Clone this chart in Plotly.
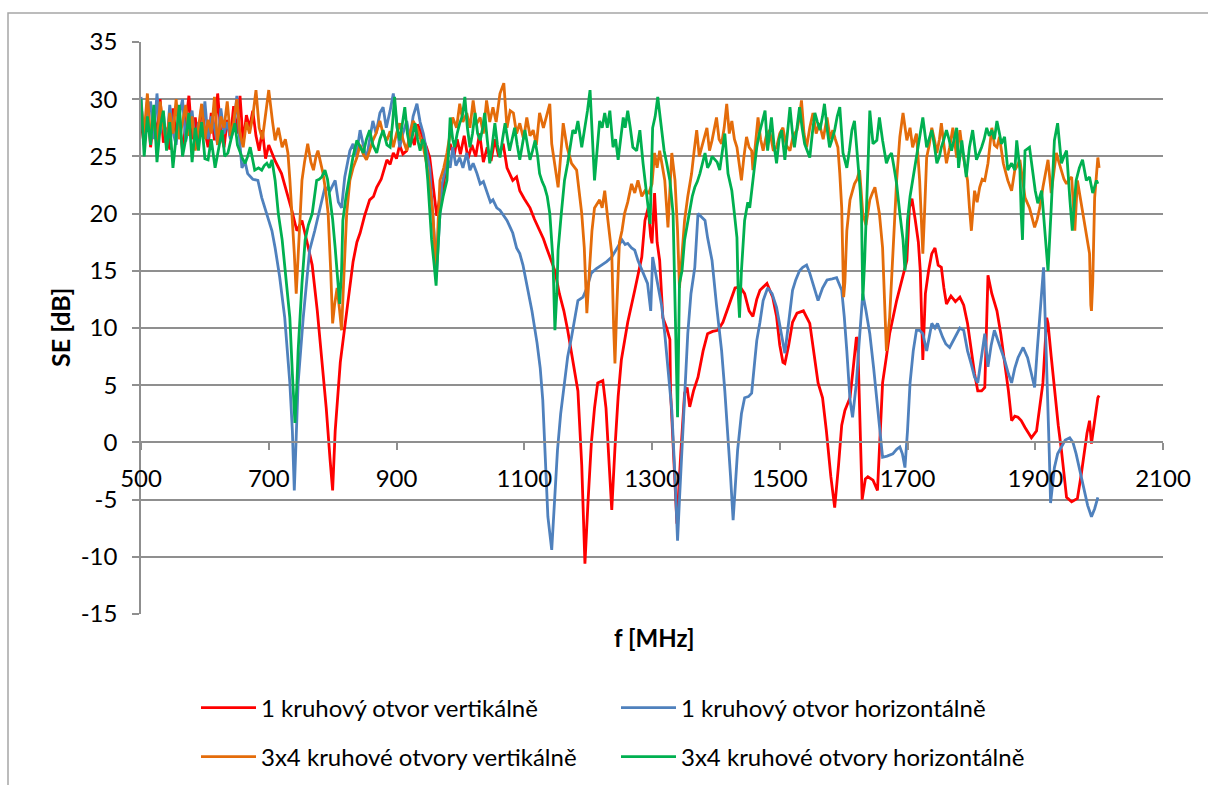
import plotly.graph_objects as go

# ---- data (frequency MHz, SE dB) ----
red_data = [
(500,28.0),(505,26.0),(510,29.8),(515,25.8),(520,28.5),(525,27.0),(530,30.0),(535,26.2),(540,27.5),(545,25.6),
(550,29.2),(555,26.8),(560,28.0),(565,25.5),(570,27.8),(575,30.3),(580,26.5),(585,28.4),(590,26.0),(595,29.5),
(600,27.2),(605,25.8),(610,28.8),(615,26.4),(620,30.5),(625,27.0),(630,25.8),(635,28.2),(640,26.6),(645,29.4),
(650,27.0),(655,30.3),(660,26.2),(665,28.6),(670,27.5),(675,29.0),(680,26.8),(685,25.5),(690,27.3),(695,24.8),
(700,26.0),(710,24.6),(720,23.5),(728,22.0),(736,20.3),(744,18.5),(752,19.4),(760,17.5),(768,15.5),(776,11.5),
(784,7.0),(790,3.0),(796,-1.5),(800,-4.2),(804,1.0),(808,4.5),(812,7.0),(817,9.2),(822,11.5),(827,13.3),
(832,15.8),(838,17.5),(843,18.3),(850,19.8),(858,21.2),(864,21.5),(869,22.3),(876,23.0),(885,24.7),(890,24.3),
(895,25.3),(900,24.8),(905,26.0),(910,25.2),(916,25.5),(922,27.0),(928,26.0),(933,27.8),(937,27.3),(942,26.5),
(947,25.8),(952,24.9),(957,22.5),(963,19.8),(968,21.5),(973,22.0),(978,24.5),(984,26.1),(990,25.0),(995,26.5),
(1000,25.2),(1006,26.8),(1012,24.8),(1018,26.0),(1024,25.0),(1030,27.0),(1036,24.5),(1042,25.8),(1048,24.6),(1054,26.5),
(1060,25.0),(1067,26.1),(1073,24.0),(1082,22.9),(1088,23.2),(1093,22.0),(1100,21.3),(1109,20.5),(1116,19.5),(1124,18.5),
(1130,17.8),(1135,17.0),(1141,16.0),(1148,15.0),(1155,13.0),(1162,11.5),(1168,9.8),(1176,7.0),(1184,4.5),(1190,-2.0),
(1195,-10.6),(1200,-5.0),(1205,-0.1),(1210,3.0),(1215,5.2),(1223,5.4),(1228,3.0),(1233,-2.0),(1237,-5.9),(1242,-0.5),
(1247,4.0),(1252,7.2),(1262,10.5),(1273,13.3),(1280,15.0),(1284,16.2),(1289,19.4),(1294,20.5),(1298,18.0),(1300,17.4),
(1304,21.8),(1308,17.5),(1312,15.9),(1317,10.9),(1323,10.0),(1328,9.0),(1329,4.5),(1333,0.0),(1339,-7.1),(1345,-1.0),
(1351,4.3),(1355,4.8),(1359,3.1),(1365,4.5),(1372,5.7),(1380,8.0),(1387,9.5),(1395,9.7),(1403,9.8),(1411,10.5),
(1419,11.8),(1425,12.6),(1430,13.5),(1438,13.6),(1445,13.0),(1452,11.5),(1458,11.0),(1464,12.5),(1469,13.3),(1480,13.9),
(1489,12.7),(1495,11.0),(1500,8.5),(1505,7.0),(1508,6.9),(1514,8.5),(1520,10.5),(1527,11.3),(1537,11.5),(1547,10.4),
(1553,8.0),(1560,5.2),(1567,3.9),(1573,1.0),(1580,-3.0),(1586,-5.7),(1592,-2.0),(1597,1.5),(1602,2.8),(1610,3.9),
(1615,6.5),(1620,9.2),(1622,9.0),(1626,0.0),(1629,-5.0),(1634,-3.2),(1638,-3.0),(1646,-3.3),(1653,-4.2),(1657,0.5),
(1661,5.2),(1667,7.5),(1672,9.5),(1683,12.4),(1690,14.0),(1699,15.9),(1703,20.5),(1707,21.3),(1712,19.5),(1717,17.5),
(1720,15.0),(1724,7.2),(1728,13.0),(1733,15.0),(1738,16.5),(1743,17.0),(1748,15.5),(1753,15.3),(1757,13.5),(1761,12.1),
(1768,12.8),(1775,12.3),(1782,12.7),(1788,12.0),(1794,10.4),(1800,8.0),(1805,6.0),(1810,4.5),(1816,4.5),(1821,4.8),
(1826,14.6),(1832,13.0),(1840,11.5),(1846,9.5),(1852,7.2),(1858,4.5),(1863,1.9),(1868,2.3),(1873,2.2),(1878,1.9),
(1884,1.3),(1889,0.8),(1894,0.4),(1902,1.0),(1907,3.0),(1912,5.2),(1918,10.9),(1920,10.4),(1925,7.5),(1930,4.5),
(1936,1.5),(1941,-0.7),(1945,-2.8),(1949,-4.8),(1957,-5.2),(1962,-5.0),(1966,-4.9),(1972,-2.8),(1977,-0.7),(1981,0.8),
(1985,1.9),(1988,-0.1),(1992,1.5),(1998,3.9),(2000,4.1)]

blue_data = [
(500,30.2),(505,26.0),(510,28.5),(515,29.8),(520,26.5),(525,30.5),(530,27.0),(535,28.8),(540,25.8),(545,29.5),
(550,27.2),(555,26.0),(560,28.6),(565,30.0),(570,26.3),(575,27.8),(580,29.0),(585,25.8),(590,28.0),(595,27.0),
(600,29.8),(605,26.5),(610,28.5),(615,27.5),(620,26.0),(625,29.2),(630,27.0),(635,28.0),(640,26.5),(645,27.3),
(650,30.3),(655,26.0),(658,24.0),(663,24.5),(667,23.5),(675,23.0),(683,22.9),(689,21.4),(694,20.5),(699,19.4),
(705,18.5),(710,17.0),(717,14.5),(725,10.9),(733,5.2),(737,1.0),(740,-4.2),(743,0.5),(746,5.2),(754,10.9),
(760,14.5),(764,16.8),(772,18.5),(780,20.5),(788,22.3),(796,22.0),(804,22.9),(809,21.0),(814,20.5),(819,23.2),
(822,24.0),(827,25.5),(832,26.1),(837,25.0),(843,27.3),(848,26.0),(853,24.7),(858,26.5),(863,28.1),(868,27.0),
(874,28.8),(879,29.3),(884,27.5),(890,29.0),(895,30.5),(900,28.0),(905,25.8),(910,27.0),(916,28.1),(921,26.5),
(926,28.5),(932,29.6),(937,28.0),(942,27.0),(947,25.5),(952,24.0),(956,20.5),(960,17.0),(963,15.0),(967,19.0),
(971,22.5),(975,23.5),(979,24.9),(984,24.0),(988,25.8),(993,24.2),(999,24.9),(1004,24.0),(1010,25.3),(1015,23.8),
(1020,24.4),(1026,23.5),(1031,22.6),(1036,22.8),(1042,21.8),(1047,21.0),(1051,21.2),(1057,20.5),(1062,20.3),(1068,19.8),
(1073,19.4),(1078,18.8),(1082,18.3),(1088,17.0),(1093,16.5),(1098,15.5),(1104,13.9),(1112,11.5),(1120,8.7),(1125,6.5),
(1129,3.7),(1133,-1.0),(1137,-6.5),(1143,-9.4),(1147,-5.0),(1152,-0.7),(1157,2.5),(1163,5.2),(1168,7.5),(1174,9.2),
(1179,11.0),(1184,12.4),(1192,12.7),(1198,13.5),(1205,14.8),(1213,15.2),(1221,15.5),(1229,15.8),(1237,16.2),(1245,17.0),
(1253,17.7),(1258,17.3),(1262,17.4),(1268,17.0),(1273,16.8),(1278,15.9),(1285,15.0),(1293,13.9),(1298,11.5),(1301,16.2),
(1305,15.0),(1309,13.9),(1315,12.0),(1320,9.5),(1326,6.0),(1331,2.8),(1336,-3.0),(1340,-8.6),(1343,-5.0),(1347,-0.7),
(1351,4.0),(1356,9.5),(1361,13.0),(1367,15.3),(1372,20.0),(1377,19.7),(1383,19.4),(1387,17.9),(1394,15.9),(1401,12.0),
(1409,8.0),(1414,4.5),(1419,0.8),(1423,-3.0),(1427,-6.8),(1431,-3.5),(1434,-0.7),(1440,2.5),(1445,3.9),(1451,4.0),
(1456,4.3),(1461,7.2),(1464,8.9),(1469,10.5),(1474,12.4),(1481,13.5),(1488,13.0),(1495,11.8),(1502,9.5),(1508,7.8),
(1514,10.5),(1520,13.3),(1525,14.2),(1531,15.0),(1536,15.3),(1542,15.5),(1547,14.8),(1552,13.9),(1560,12.4),(1567,13.5),
(1574,14.2),(1582,14.3),(1589,14.4),(1597,13.3),(1601,11.0),(1605,8.0),(1610,3.7),(1614,2.2),(1617,3.5),(1620,5.2),
(1624,8.5),(1630,13.0),(1635,11.5),(1641,9.5),(1647,6.5),(1652,3.7),(1657,1.0),(1661,-1.3),(1668,-1.2),(1677,-1.0),
(1683,-0.6),(1688,-0.4),(1692,-1.0),(1696,-2.2),(1700,1.0),(1704,5.2),(1709,8.0),(1714,9.8),(1719,9.8),(1724,9.5),
(1730,8.0),(1738,10.4),(1743,10.0),(1747,10.4),(1755,9.2),(1760,8.6),(1766,8.3),(1774,9.2),(1782,10.0),(1788,9.8),
(1794,8.0),(1800,6.8),(1805,5.7),(1810,5.2),(1815,7.0),(1821,9.5),(1826,6.6),(1831,8.5),(1836,9.8),(1844,8.5),
(1852,7.2),(1858,6.0),(1863,5.2),(1868,6.5),(1873,7.4),(1881,8.3),(1888,7.4),(1894,6.0),(1899,4.8),(1903,8.0),
(1907,10.9),(1913,15.3),(1916,10.0),(1919,5.2),(1922,-1.0),(1924,-5.3),(1930,-2.2),(1935,-1.0),(1941,-0.4),(1947,0.2),
(1954,0.4),(1959,0.0),(1964,-1.0),(1970,-2.5),(1977,-4.2),(1982,-5.5),(1988,-6.5),(1993,-5.8),(1998,-4.8)]

orange_data = [
(500,29.5),(505,27.0),(510,30.5),(515,26.5),(520,28.5),(525,25.8),(530,29.8),(535,27.5),(540,26.2),(545,28.8),
(550,27.0),(555,30.0),(560,26.5),(565,28.0),(570,29.5),(575,26.8),(580,28.5),(585,25.5),(590,27.8),(595,29.6),
(600,26.5),(605,28.2),(610,27.0),(615,30.2),(620,26.0),(625,28.5),(630,27.5),(635,29.8),(640,26.8),(645,28.0),
(650,30.0),(655,27.0),(660,25.8),(665,28.0),(670,27.0),(675,28.5),(680,30.8),(685,27.5),(690,26.5),(695,28.5),
(700,30.8),(706,28.0),(710,26.4),(715,27.5),(721,25.8),(726,26.5),(730,25.3),(733,23.0),(736,20.5),(740,16.5),
(743,13.0),(747,18.0),(752,22.9),(756,24.5),(761,26.1),(766,24.5),(770,23.8),(774,25.0),(777,25.5),(781,24.5),
(785,23.5),(789,22.0),(793,20.0),(797,15.0),(800,10.4),(803,12.0),(807,13.5),(811,11.5),(814,9.8),(818,15.0),
(822,20.0),(827,22.9),(832,24.0),(838,24.9),(843,26.0),(848,25.2),(853,24.7),(858,25.5),(863,26.4),(868,27.0),
(874,28.1),(879,27.0),(885,26.4),(890,27.2),(895,25.8),(900,27.0),(905,27.9),(910,26.5),(916,25.5),(921,27.0),
(926,28.1),(932,27.5),(937,26.7),(942,25.8),(947,24.4),(952,22.5),(957,20.0),(962,14.5),(965,19.0),(968,22.9),
(974,24.0),(979,25.3),(984,27.0),(988,28.4),(994,27.5),(999,29.6),(1004,28.0),(1010,28.8),(1015,27.5),(1020,29.9),
(1025,27.8),(1031,28.4),(1036,27.0),(1041,29.9),(1046,28.0),(1051,29.3),(1056,28.0),(1062,30.5),(1068,31.4),(1073,27.5),
(1078,29.0),(1083,28.8),(1088,27.0),(1093,27.9),(1099,26.5),(1104,28.4),(1109,26.8),(1114,27.3),(1119,26.0),(1124,28.8),
(1130,27.5),(1135,28.5),(1140,29.6),(1143,26.1),(1148,24.4),(1153,22.3),(1157,25.0),(1161,27.9),(1167,25.8),(1174,24.4),
(1182,23.8),(1186,22.0),(1190,20.0),(1194,17.0),(1198,11.3),(1202,15.0),(1206,18.5),(1210,20.5),(1218,21.2),(1222,20.5),
(1226,22.0),(1231,19.4),(1237,16.5),(1240,10.0),(1242,6.9),(1245,12.0),(1249,17.5),(1253,18.5),(1257,20.0),(1262,21.0),
(1268,22.6),(1273,21.8),(1278,22.9),(1284,21.5),(1289,22.0),(1295,21.8),(1300,22.6),(1304,25.3),(1308,24.0),(1312,25.5),
(1316,24.0),(1320,22.9),(1325,18.8),(1328,22.0),(1331,25.3),(1336,22.9),(1340,18.5),(1343,13.5),(1347,16.5),(1351,19.4),
(1356,21.5),(1362,23.5),(1366,25.5),(1370,27.3),(1374,25.0),(1378,25.8),(1386,27.5),(1390,25.5),(1394,26.4),(1401,28.4),
(1405,26.5),(1409,26.1),(1413,27.5),(1417,29.6),(1421,27.0),(1425,28.1),(1429,26.5),(1433,25.8),(1437,24.0),(1440,22.9),
(1444,25.0),(1448,26.7),(1452,25.8),(1456,25.5),(1458,23.8),(1462,26.0),(1466,28.4),(1470,26.5),(1474,25.5),(1479,26.8),
(1484,27.3),(1490,25.5),(1495,25.8),(1500,27.0),(1505,27.5),(1510,26.0),(1516,25.5),(1521,26.8),(1527,27.3),(1531,28.5),
(1534,29.9),(1538,27.0),(1542,25.8),(1547,27.5),(1552,28.8),(1557,27.0),(1562,27.9),(1568,26.5),(1574,28.4),(1579,26.5),
(1583,27.3),(1587,26.5),(1591,25.8),(1594,23.5),(1597,20.5),(1600,12.7),(1602,14.0),(1605,18.5),(1610,21.2),(1617,22.6),
(1621,23.0),(1625,23.8),(1630,20.0),(1635,19.0),(1641,21.2),(1645,21.8),(1649,22.3),(1653,21.0),(1656,20.0),(1661,17.0),
(1664,12.0),(1667,8.0),(1672,10.9),(1677,17.0),(1683,22.9),(1688,26.7),(1693,28.8),(1699,26.4),(1704,27.5),(1708,25.8),
(1714,27.0),(1719,22.9),(1722,18.3),(1724,16.5),(1727,20.5),(1730,24.9),(1734,26.0),(1738,27.5),(1742,26.5),(1746,25.3),
(1750,26.5),(1753,27.9),(1757,26.0),(1761,24.4),(1766,25.8),(1771,27.5),(1777,24.9),(1782,27.3),(1786,25.5),(1790,24.0),
(1794,22.9),(1797,20.5),(1800,18.5),(1805,22.0),(1809,21.0),(1813,22.3),(1817,23.0),(1821,22.9),(1826,24.4),(1832,27.5),
(1836,26.0),(1840,25.8),(1844,26.7),(1850,24.4),(1857,22.9),(1863,22.0),(1868,23.8),(1872,24.2),(1876,24.7),(1880,23.0),
(1884,21.4),(1891,20.5),(1895,19.5),(1899,18.8),(1903,19.5),(1907,20.5),(1912,22.3),(1916,23.5),(1920,24.7),(1925,21.8),
(1929,23.5),(1933,25.3),(1937,24.5),(1941,23.8),(1945,23.0),(1949,22.6),(1953,23.0),(1957,23.2),(1962,18.5),(1966,22.9),
(1972,20.9),(1976,19.5),(1980,18.5),(1985,16.5),(1987,12.0),(1988,11.5),(1990,14.0),(1993,21.4),(1996,23.5),(1998,24.9),
(2000,24.0)]

green_data = [
(500,30.0),(505,25.0),(510,28.5),(515,26.0),(520,29.5),(525,24.5),(530,27.5),(535,29.0),(540,25.5),(545,28.0),
(550,24.0),(555,27.0),(560,29.5),(565,25.0),(570,26.5),(575,28.8),(580,24.5),(585,27.5),(590,25.5),(595,28.0),
(600,24.8),(605,24.7),(610,26.5),(616,24.0),(622,26.0),(627,27.3),(631,25.0),(636,25.3),(641,26.5),(647,27.9),
(651,26.0),(655,25.3),(659,24.8),(663,24.4),(667,25.0),(671,25.8),(675,24.5),(678,23.8),(684,24.0),(689,23.8),
(693,24.2),(697,24.4),(701,24.0),(705,24.7),(710,22.9),(715,20.0),(721,17.7),(725,15.5),(729,13.5),(733,10.9),
(737,6.0),(741,1.7),(744,5.0),(746,8.0),(752,13.9),(757,17.7),(762,19.0),(768,20.0),(775,22.9),(779,23.0),
(783,23.2),(788,23.8),(792,23.0),(796,21.4),(800,19.5),(804,17.0),(808,14.0),(811,12.1),(814,15.0),(816,19.4),
(821,21.5),(827,23.5),(832,25.0),(838,26.4),(843,25.8),(848,25.3),(853,26.5),(858,27.3),(863,26.0),(869,25.3),
(874,26.5),(879,27.3),(885,26.0),(890,25.8),(894,28.0),(897,30.2),(901,27.5),(905,26.4),(909,27.8),(913,29.3),
(917,27.0),(921,25.8),(925,26.8),(929,27.9),(933,26.5),(937,25.5),(941,26.5),(944,26.1),(949,22.9),(952,20.0),
(955,17.7),(959,15.5),(962,13.7),(965,17.0),(968,20.0),(973,21.5),(979,22.9),(982,26.0),(984,28.4),(988,26.5),
(991,25.8),(995,27.0),(999,27.9),(1003,28.5),(1007,30.2),(1011,27.5),(1015,25.8),(1019,27.0),(1023,28.8),(1027,27.0),
(1031,26.4),(1035,27.5),(1038,28.8),(1042,26.5),(1046,24.4),(1050,26.0),(1054,27.9),(1058,26.0),(1062,24.9),(1066,26.5),
(1070,27.9),(1074,26.5),(1077,25.5),(1081,26.5),(1085,27.5),(1089,26.0),(1093,24.7),(1097,26.0),(1101,27.3),(1105,26.0),
(1109,24.7),(1113,25.5),(1117,26.4),(1121,25.0),(1124,23.5),(1128,22.8),(1132,22.3),(1136,21.5),(1140,20.0),(1145,15.9),
(1148,9.8),(1151,13.0),(1153,16.8),(1158,20.0),(1163,22.9),(1168,24.4),(1172,26.0),(1176,27.3),(1180,27.0),(1184,28.1),
(1190,25.8),(1195,27.5),(1199,29.0),(1203,30.8),(1207,26.5),(1210,22.9),(1214,25.5),(1218,28.1),(1222,27.5),(1226,28.8),
(1230,27.5),(1234,29.0),(1239,25.8),(1243,26.5),(1247,24.7),(1251,26.5),(1255,28.4),(1258,27.5),(1262,29.0),(1266,27.5),
(1270,25.8),(1276,25.5),(1281,27.3),(1286,24.4),(1292,21.4),(1297,19.1),(1301,27.5),(1305,28.5),(1309,30.2),(1315,27.3),
(1319,25.5),(1323,24.4),(1328,22.9),(1333,20.0),(1336,12.0),(1338,5.0),(1340,2.2),(1343,13.9),(1347,15.0),(1351,17.7),
(1355,19.0),(1359,20.5),(1363,21.5),(1367,22.3),(1371,22.8),(1375,23.5),(1379,24.5),(1383,25.3),(1387,24.0),(1391,24.4),
(1394,25.0),(1398,24.7),(1402,24.5),(1406,23.8),(1410,25.5),(1414,27.0),(1419,23.5),(1425,22.0),(1429,20.0),(1433,17.9),
(1435,13.0),(1437,10.9),(1440,15.0),(1445,19.4),(1450,21.0),(1453,20.5),(1458,22.9),(1464,25.8),(1468,27.0),(1472,27.9),
(1477,29.0),(1481,25.5),(1487,28.4),(1491,26.0),(1495,24.4),(1499,26.5),(1503,27.3),(1508,24.7),(1512,27.0),(1516,29.3),
(1520,27.0),(1523,25.8),(1527,27.5),(1531,29.3),(1535,27.5),(1539,26.1),(1543,25.5),(1547,24.9),(1551,27.0),(1555,28.8),
(1559,28.0),(1563,27.3),(1567,28.5),(1570,29.6),(1574,27.5),(1578,25.8),(1582,26.5),(1586,27.3),(1590,28.5),(1594,29.3),
(1599,25.3),(1605,24.0),(1609,25.5),(1613,27.3),(1617,28.1),(1622,24.9),(1626,22.0),(1628,20.0),(1630,12.4),(1633,16.0),
(1635,20.0),(1638,24.0),(1641,29.0),(1646,26.1),(1652,26.4),(1656,28.4),(1661,26.4),(1667,24.4),(1671,25.0),(1675,25.3),
(1679,24.0),(1683,22.6),(1688,20.0),(1693,17.7),(1696,15.0),(1700,19.4),(1704,21.5),(1708,22.9),(1712,24.5),(1716,25.8),
(1720,27.0),(1724,28.4),(1730,25.8),(1734,26.5),(1738,27.3),(1742,26.0),(1746,24.4),(1750,25.0),(1753,25.8),(1757,26.5),
(1761,27.3),(1765,26.5),(1769,25.5),(1773,26.5),(1777,27.5),(1780,24.0),(1785,26.4),(1788,25.0),(1792,23.2),(1797,25.8),
(1802,27.3),(1808,24.7),(1812,25.2),(1816,25.8),(1820,26.5),(1824,27.5),(1828,26.8),(1832,27.3),(1836,26.5),(1840,28.1),
(1844,27.0),(1847,26.1),(1852,26.7),(1857,23.8),(1863,24.4),(1868,23.8),(1871,26.4),(1876,23.8),(1878,20.0),(1880,17.7),
(1882,22.0),(1884,25.5),(1891,25.8),(1896,23.5),(1900,22.0),(1904,20.9),(1910,22.0),(1915,18.5),(1920,15.0),(1925,20.5),
(1930,26.4),(1935,27.9),(1941,24.4),(1945,25.0),(1949,25.5),(1954,21.4),(1958,18.5),(1964,22.9),(1969,24.0),(1974,24.7),
(1980,22.9),(1985,23.2),(1990,21.8),(1996,22.9),(1998,22.6)]

series_names = ["1 kruhový otvor vertikálně", "1 kruhový otvor horizontálně",
                "3x4 kruhové otvory vertikálně", "3x4 kruhové otvory horizontálně"]
series_colors = ["#FF0000", "#4F81BD", "#E46C0A", "#00B050"]
series_data = [red_data, blue_data, orange_data, green_data]
series_legend = ["legend", "legend", "legend2", "legend2"]

x_ticks = [500, 700, 900, 1100, 1300, 1500, 1700, 1900, 2100]
y_ticks = [-15, -10, -5, 0, 5, 10, 15, 20, 25, 30, 35]
y_ticklabels = ["-15", "-10", "-5", "0", "5", "10", "15", "20", "25", "30", "35"]

FONT = "Lato"
FS = 24
GRID = "#8f8f8f"

fig = go.Figure()
for name, color, data, lg in zip(series_names, series_colors, series_data, series_legend):
    f, se = zip(*data)
    fig.add_trace(go.Scatter(x=list(f), y=list(se), mode="lines", name=name,
                             line=dict(color=color, width=2.8), legend=lg))

W, H = 1208, 785
L, R, T, B = 141, 45, 42, 171
pw, ph = W - L - R, H - T - B

def px(xp):
    return (xp - L) / pw

def py(yp):
    return (H - B - yp) / ph

legend_common = dict(orientation="h", xanchor="left", yanchor="middle",
                     entrywidth=350, entrywidthmode="pixels", itemwidth=55,
                     font=dict(family=FONT, size=FS, color="#000000"),
                     bgcolor="rgba(0,0,0,0)")

fig.update_layout(
    width=W, height=H,
    margin=dict(l=L, r=R, t=T, b=B, autoexpand=False),
    paper_bgcolor="white", plot_bgcolor="white",
    font=dict(family=FONT, size=FS, color="#000000"),
    showlegend=True,
    legend=dict(x=px(196), y=py(708), **legend_common),
    legend2=dict(x=px(196), y=py(757), **legend_common),
    xaxis=dict(range=[500, 2100], tickvals=x_ticks, ticktext=[str(v) for v in x_ticks],
               showgrid=False, zeroline=False, showline=True, linecolor=GRID, linewidth=1.5,
               ticks="outside", ticklen=7, tickcolor=GRID, tickwidth=1.5,
               anchor="free", position=0.3, ticklabelstandoff=8,
               tickfont=dict(family=FONT, size=FS, color="#000000")),
    yaxis=dict(range=[-15, 35], tickvals=y_ticks, ticktext=y_ticklabels,
               showgrid=True, gridcolor=GRID, gridwidth=1.5,
               zeroline=False, showline=True, linecolor=GRID, linewidth=1.5,
               ticks="outside", ticklen=7, tickcolor=GRID, tickwidth=1.5,
               ticklabelstandoff=10,
               tickfont=dict(family=FONT, size=FS, color="#000000")),
    annotations=[
        dict(text="<b>f [MHz]</b>", x=px(654), y=py(637), xref="paper", yref="paper",
             showarrow=False, xanchor="center", yanchor="middle",
             font=dict(family=FONT, size=24, color="#000000")),
        dict(text="<b>SE [dB]</b>", x=px(60), y=py(328), xref="paper", yref="paper",
             showarrow=False, xanchor="center", yanchor="middle", textangle=-90,
             font=dict(family=FONT, size=25, color="#000000")),
    ],
    shapes=[dict(type="rect", xref="paper", yref="paper",
                 x0=px(8), x1=px(1215), y0=py(13), y1=py(800),
                 line=dict(color="#a6a6a6", width=1.5), fillcolor="rgba(0,0,0,0)", layer="below")],
)

fig.write_html("out.html")
